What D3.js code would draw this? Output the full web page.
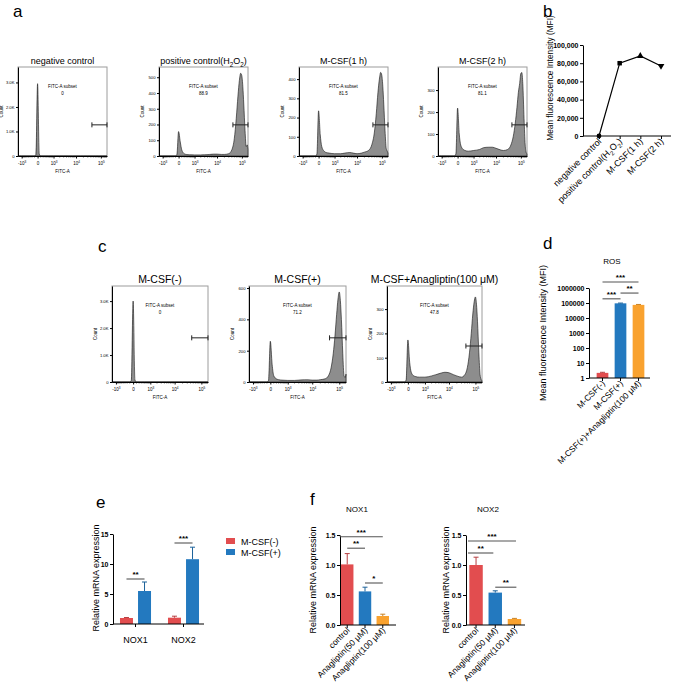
<!DOCTYPE html>
<html>
<head>
<meta charset="utf-8">
<script src="https://cdn.jsdelivr.net/npm/d3@7"></script>
<style>
  body { margin: 0; background: #fff; }
  svg { display: block; }
</style>
</head>
<body>
<div id="chart"></div>
<script>
// ---------- data ----------
// flow histograms: FITC-A bin positions shared by every sample, counts
const fitcBins = [-1500, -1000, -500, -200, -100, -50, 0, 50, 100, 200, 300, 500, 1000, 2000, 3000, 5000, 7000,
  10000, 15000, 20000, 30000, 40000, 50000, 60000, 70000, 80000, 90000, 100000, 110000, 120000, 135000, 150000, 165000, 177000];

const negCtrlCounts = [0,0,0,0,0,60,2950,80,0,0,0,0,0,0,0,0,0,0,0,0,0,0,0,0,0,0,0,0,0,0,0,0,0,0];
const posCtrlCounts = [0,0,0,0,0,10,155,90,40,15,10,8,7,7,8,10,12,12,10,10,15,40,110,240,380,480,525,510,440,330,160,60,70,40];
const mcsf1hCounts  = [0,0,0,0,0,10,235,110,50,25,18,15,12,12,15,18,15,12,15,20,30,60,120,220,330,400,435,420,360,270,130,40,25,15];
const mcsf2hCounts  = [0,0,0,0,0,10,218,100,50,30,25,22,25,30,38,40,40,35,28,25,30,50,90,150,220,290,330,375,380,330,170,50,15,10];
const mcsfNegCounts = [0,0,0,0,0,60,3000,80,0,0,0,0,0,0,0,0,0,0,0,0,0,0,0,0,0,0,0,0,0,0,0,0,0,0];
const mcsfPosCounts = [0,0,0,0,0,10,260,110,40,20,15,12,10,10,12,14,14,12,12,15,20,40,90,180,300,430,530,575,520,400,180,40,30,50];
const mcsfAnaCounts = [0,0,0,0,0,8,173,80,40,25,22,20,20,25,30,37,40,38,30,25,20,30,60,120,200,280,330,350,320,250,120,30,10,5];

const histTitles  = ['negative control', 'positive control(H_2O_2)', 'M-CSF(1 h)', 'M-CSF(2 h)', 'M-CSF(-)', 'M-CSF(+)', 'M-CSF+Anagliptin(100 μM)'];
const histSubset  = ['0', '88.9', '81.5', '81.1', '0', '71.2', '47.8'];
const histYMax    = [3630, 565, 463, 405, 3560, 613, 395];
const histYTicks  = [[0,1000,2000,3000], [0,100,200,300,400,500], [0,100,200,300,400], [0,100,200,300],
                     [0,1000,2000,3000], [0,200,400,600], [0,100,200,300]];
const gateFrom = 44000;
const fitcTickVals = [-1000, 0, 1000, 10000, 100000];
const fitcTickText = ['-10^3', '0', '10^3', '10^4', '10^5'];

// b: MFI line
const bCats = ['negative control', 'positive control(H_2O_2)', 'M-CSF(1 h)', 'M-CSF(2 h)'];
const bMFI = [0, 80000, 88000, 77000];
const bYTicks = [0, 20000, 40000, 60000, 80000, 100000];

// d: ROS MFI (log)
const dCats = ['M-CSF(-)', 'M-CSF(+)', 'M-CSF(+)+Anagliptin(100 μM)'];
const dMean = [2.2, 95000, 75000];
const dErr = [0.2, 4000, 5000];
const dYTicks = [1, 10, 100, 1000, 10000, 100000, 1000000];
// [from bar, to bar, height, label]
const dSig = [[0, 2, 2.5e6, '***'], [0, 1, 1.9e5, '***'], [1, 2, 4.6e5, '**']];

// e: NOX1/NOX2 mRNA
const eGenes = ['NOX1', 'NOX2'];
const eGroups = ['M-CSF(-)', 'M-CSF(+)'];
const eNegMean = [1.0, 1.05];
const eNegErr = [0.08, 0.25];
const ePosMean = [5.5, 10.8];
const ePosErr = [1.5, 2.0];
const eYTicks = [0, 5, 10, 15];
const eSig = [[0, 7.5, '**'], [1, 13.5, '***']];

// f: anagliptin dose
const fCats = ['control', 'Anagliptin(50 μM)', 'Anagliptin(100 μM)'];
const fNox1Mean = [1.01, 0.56, 0.15];
const fNox1Err = [0.18, 0.07, 0.03];
const fNox2Mean = [1.0, 0.54, 0.1];
const fNox2Err = [0.13, 0.03, 0.01];
const fYTicks = [0, 0.5, 1.0, 1.5];
const fNox1Sig = [[-0.42, 2, 1.47, '***'], [0, 1, 1.28, '**'], [1, 2, 0.70, '*']];
const fNox2Sig = [[-0.42, 2.08, 1.40, '***'], [-0.42, 0.9, 1.20, '**'], [1, 2.1, 0.63, '**']];

const RED = '#e24d4f', BLUE = '#2379bf', ORANGE = '#f9a22f';
const FONT = '"Liberation Sans", Arial, sans-serif';

// ---------- helpers ----------
const svg = d3.select('#chart').append('svg')
  .attr('width', 676).attr('height', 690)
  .attr('font-family', FONT);

// "_2" -> subscript, "^3" -> superscript
function rich(t, str) {
  const fs = +t.attr('font-size');
  let shift = 0;
  str.split(/([_^]\d)/).filter(p => p !== '').forEach(p => {
    let target = 0, s = p, small = false;
    if (p[0] === '_') { target = 0.3; s = p.slice(1); small = true; }
    else if (p[0] === '^') { target = -0.45; s = p.slice(1); small = true; }
    const ts = t.append('tspan').text(s);
    if (target !== shift) ts.attr('dy', ((target - shift) * fs).toFixed(2));
    if (small) ts.attr('font-size', fs * 0.7);
    shift = target;
  });
  return t;
}

function styleAxis(g, fs, bold) {
  g.attr('font-family', FONT).attr('font-size', fs);
  g.selectAll('path, line').attr('stroke', '#000').attr('stroke-width', 1);
  g.selectAll('text').attr('fill', '#000').attr('font-size', fs);
  if (bold) g.selectAll('text').attr('font-weight', 'bold');
}

function panelLabel(txt, x, y) {
  svg.append('text').attr('x', x).attr('y', y).attr('font-size', 17).text(txt);
}

function yLabel(txt, x, cy, fs) {
  svg.append('text').attr('transform', `translate(${x},${cy}) rotate(-90)`)
    .attr('text-anchor', 'middle').attr('font-size', fs).text(txt);
}

function rotLabels(cats, xpos, yTop, fs) {
  cats.forEach((c, i) => {
    const t = svg.append('text').attr('text-anchor', 'end').attr('font-size', fs)
      .attr('transform', `translate(${xpos(c, i) + 3},${yTop}) rotate(-45)`);
    rich(t, c);
  });
}

function sigBar(x1, x2, y, label) {
  svg.append('line').attr('x1', x1).attr('x2', x2).attr('y1', y).attr('y2', y)
    .attr('stroke', '#555').attr('stroke-width', 1.1);
  svg.append('text').attr('x', (x1 + x2) / 2).attr('y', y - 2).attr('text-anchor', 'middle')
    .attr('font-size', 8).attr('font-weight', 'bold').text(label);
}

function errBar(cx, yTop, yEnd, color) {
  const c = d3.color(color).darker(0.6);
  svg.append('line').attr('x1', cx).attr('x2', cx).attr('y1', yTop).attr('y2', yEnd).attr('stroke', c).attr('stroke-width', 1);
  svg.append('line').attr('x1', cx - 2.5).attr('x2', cx + 2.5).attr('y1', yEnd).attr('y2', yEnd).attr('stroke', c).attr('stroke-width', 1);
}

// ---------- flow histograms (a, c) ----------
const histBoxes = [
  { x: 18, y: 67, w: 89, h: 89, titleY: 64, titleFs: 9, gateY: 0.65 },
  { x: 159, y: 67, w: 89, h: 89, titleY: 64, titleFs: 9, gateY: 0.65 },
  { x: 299, y: 67, w: 89, h: 89, titleY: 64, titleFs: 9, gateY: 0.65 },
  { x: 438, y: 67, w: 89, h: 89, titleY: 64, titleFs: 9, gateY: 0.65 },
  { x: 112, y: 286, w: 96, h: 96, titleY: 283, titleFs: 10.5, gateY: 0.54 },
  { x: 249, y: 286, w: 97, h: 96, titleY: 283, titleFs: 10.5, gateY: 0.54 },
  { x: 387, y: 286, w: 95, h: 96, titleY: 283, titleFs: 10.5, gateY: 0.625 }
];
const histCounts = [negCtrlCounts, posCtrlCounts, mcsf1hCounts, mcsf2hCounts, mcsfNegCounts, mcsfPosCounts, mcsfAnaCounts];

const minorVals = [].concat(
  d3.range(-900, 0, 100), d3.range(100, 1000, 100),
  d3.range(2000, 10000, 1000), d3.range(20000, 100000, 10000), d3.range(110000, 180000, 10000)
);

histBoxes.forEach((b, k) => {
  const x = d3.scaleSymlog().constant(300).domain([-1515, 177000]).range([b.x, b.x + b.w]);
  const y = d3.scaleLinear().domain([0, histYMax[k]]).range([b.y + b.h, b.y]);
  const g = svg.append('g');

  g.append('rect').attr('x', b.x).attr('y', b.y).attr('width', b.w).attr('height', b.h)
    .attr('fill', 'none').attr('stroke', '#9c9c9c').attr('stroke-width', 1);

  const area = d3.area().x((d, i) => x(fitcBins[i])).y0(y(0)).y1(d => y(d)).curve(d3.curveMonotoneX);
  g.append('path').datum(histCounts[k]).attr('d', area)
    .attr('fill', '#8d8d8d').attr('stroke', '#111').attr('stroke-width', 0.6);

  const fmt = histYMax[k] > 1000 ? (d => d === 0 ? '0' : d3.format('.1f')(d / 1000) + 'K') : d3.format('d');
  const ya = g.append('g').attr('transform', `translate(${b.x},0)`)
    .call(d3.axisLeft(y).tickValues(histYTicks[k]).tickFormat(fmt).tickSize(2).tickPadding(1.5).tickSizeOuter(0));
  styleAxis(ya, 4.2, false);

  const xa = g.append('g').attr('transform', `translate(0,${b.y + b.h})`)
    .call(d3.axisBottom(x).tickValues(fitcTickVals).tickSize(2.5).tickPadding(3).tickSizeOuter(0));
  styleAxis(xa, 4.5, false);
  xa.selectAll('.tick text').each(function (d, i) {
    const t = d3.select(this).text('');
    rich(t, fitcTickText[i]);
  });
  xa.selectAll('.minor').data(minorVals).enter().append('line')
    .attr('x1', d => x(d)).attr('x2', d => x(d)).attr('y1', 0).attr('y2', 1.5)
    .attr('stroke', '#000').attr('stroke-width', 0.6);

  // gate
  const gy = b.y + b.h * b.gateY;
  const gx1 = x(gateFrom), gx2 = x(177000);
  g.append('line').attr('x1', gx1).attr('x2', gx2).attr('y1', gy).attr('y2', gy).attr('stroke', '#222').attr('stroke-width', 1);
  [gx1, gx2].forEach(gx => g.append('line').attr('x1', gx).attr('x2', gx).attr('y1', gy - 2.5).attr('y2', gy + 2.5)
    .attr('stroke', '#222').attr('stroke-width', 1));

  // texts
  const cx = b.x + b.w / 2;
  rich(g.append('text').attr('x', cx).attr('y', b.titleY).attr('text-anchor', 'middle').attr('font-size', b.titleFs), histTitles[k]);
  g.append('text').attr('x', cx).attr('y', b.y + 21).attr('text-anchor', 'middle').attr('font-size', 4.5).text('FITC-A subset');
  g.append('text').attr('x', cx).attr('y', b.y + 28).attr('text-anchor', 'middle').attr('font-size', 4.5).text(histSubset[k]);
  g.append('text').attr('x', cx).attr('y', b.y + b.h + 17).attr('text-anchor', 'middle').attr('font-size', 4.5).text('FITC-A');
  g.append('text').attr('transform', `translate(${b.x - 15},${b.y + b.h / 2}) rotate(-90)`)
    .attr('text-anchor', 'middle').attr('font-size', 4.5).text('Count');
});

panelLabel('a', 13, 17);
panelLabel('c', 98, 252);

// ---------- b: MFI line ----------
{
  const x = d3.scalePoint().domain(bCats).range([599, 661]);
  const y = d3.scaleLinear().domain([0, 100000]).range([136, 45]);
  const ya = svg.append('g').attr('transform', 'translate(583,0)')
    .call(d3.axisLeft(y).tickValues(bYTicks).tickSize(3).tickPadding(1.5).tickSizeOuter(0));
  styleAxis(ya, 7, true);
  const xa = svg.append('g').attr('transform', 'translate(0,136)')
    .call(d3.axisBottom(x).tickSize(3).tickFormat('').tickSizeOuter(0));
  styleAxis(xa, 7, false);
  xa.select('.domain').attr('d', 'M583,0H671');

  svg.append('path').datum(bMFI)
    .attr('d', d3.line().x((d, i) => x(bCats[i])).y(d => y(d)))
    .attr('fill', 'none').attr('stroke', '#000').attr('stroke-width', 1.2);
  const shapes = [d3.symbolCircle, d3.symbolSquare, d3.symbolTriangle, d3.symbolTriangle];
  bMFI.forEach((v, i) => {
    svg.append('path').attr('d', d3.symbol().type(shapes[i]).size(i === 0 ? 18 : 20)())
      .attr('transform', `translate(${x(bCats[i])},${y(v)})` + (i === 3 ? ' rotate(180)' : ''))
      .attr('fill', '#000');
  });
  rotLabels(bCats, c => x(c), 142, 9);
  yLabel('Mean fluorescence Intensity (MFI)', 553, 78, 8.3);
  panelLabel('b', 543, 17);
}

// ---------- d: ROS ----------
{
  const x = d3.scaleBand().domain(dCats).range([593.5, 647.5]).paddingInner(0.35).paddingOuter(0.175);
  const y = d3.scaleLog().domain([1, 1000000]).range([378, 288]);
  const colors = [RED, BLUE, ORANGE];
  dCats.forEach((c, i) => {
    svg.append('rect').attr('x', x(c)).attr('width', x.bandwidth())
      .attr('y', y(dMean[i])).attr('height', y(1) - y(dMean[i]))
      .attr('fill', colors[i]);
    errBar(x(c) + x.bandwidth() / 2, y(dMean[i]), y(dMean[i] + dErr[i]), colors[i]);
  });
  const ya = svg.append('g').attr('transform', 'translate(589,0)')
    .call(d3.axisLeft(y).tickValues(dYTicks).tickFormat(d3.format('d')).tickSize(3).tickPadding(1.5).tickSizeOuter(0));
  styleAxis(ya, 7, true);
  const xa = svg.append('g').attr('transform', 'translate(0,378)')
    .call(d3.axisBottom(x).tickSize(3).tickFormat('').tickSizeOuter(0));
  styleAxis(xa, 7, false);
  xa.select('.domain').attr('d', 'M589,0H650');
  const cx = i => x(dCats[0]) + x.bandwidth() / 2 + i * x.step();
  dSig.forEach(s => sigBar(cx(s[0]), cx(s[1]), y(s[2]), s[3]));
  rotLabels(dCats, c => x(c) + x.bandwidth() / 2, 384, 8.5);
  svg.append('text').attr('x', 612).attr('y', 264).attr('text-anchor', 'middle').attr('font-size', 8).text('ROS');
  yLabel('Mean fluorescence Intensity (MFI)', 546, 333, 9);
  panelLabel('d', 543, 249);
}

// ---------- e: M-CSF NOX1/NOX2 ----------
{
  const x0 = d3.scaleBand().domain(eGenes).range([111.5, 207.5]);
  const x1 = d3.scaleBand().domain(eGroups).range([0, x0.bandwidth()]).paddingInner(0.28).paddingOuter(0.47);
  const y = d3.scaleLinear().domain([0, 15]).range([624, 534]);
  const series = [[eNegMean, eNegErr, RED], [ePosMean, ePosErr, BLUE]];
  eGenes.forEach((gname, gi) => {
    series.forEach((s, si) => {
      const bx = x0(gname) + x1(eGroups[si]);
      svg.append('rect').attr('x', bx).attr('width', x1.bandwidth())
        .attr('y', y(s[0][gi])).attr('height', y(0) - y(s[0][gi])).attr('fill', s[2]);
      errBar(bx + x1.bandwidth() / 2, y(s[0][gi]), y(s[0][gi] + s[1][gi]), s[2]);
    });
  });
  const ya = svg.append('g').attr('transform', 'translate(113,0)')
    .call(d3.axisLeft(y).tickValues(eYTicks).tickSize(3).tickPadding(1.5).tickSizeOuter(0));
  styleAxis(ya, 7, true);
  const xa = svg.append('g').attr('transform', 'translate(0,624)')
    .call(d3.axisBottom(x0).tickSize(3).tickPadding(10).tickSizeOuter(0));
  styleAxis(xa, 9, false);
  xa.select('.domain').attr('d', 'M113,0H204');
  eSig.forEach(s => {
    const g = eGenes[s[0]];
    sigBar(x0(g) + x1(eGroups[0]) + x1.bandwidth() / 2, x0(g) + x1(eGroups[1]) + x1.bandwidth() / 2, y(s[1]), s[2]);
  });
  // legend
  eGroups.forEach((lab, i) => {
    svg.append('rect').attr('x', 226).attr('y', 538 + i * 11).attr('width', 9).attr('height', 6)
      .attr('fill', i === 0 ? RED : BLUE);
    svg.append('text').attr('x', 241).attr('y', 544.5 + i * 11).attr('font-size', 9).text(lab);
  });
  yLabel('Relative mRNA expression', 99, 578, 9);
  panelLabel('e', 96, 508);
}

// ---------- f: anagliptin NOX1 / NOX2 ----------
function fPanel(mean, err, sig, axisX, axisEnd, range, title, titleX, labX) {
  const x = d3.scaleBand().domain(fCats).range(range).paddingInner(0.3).paddingOuter(0.225);
  const y = d3.scaleLinear().domain([0, 1.5]).range([625, 535]);
  const colors = [RED, BLUE, ORANGE];
  fCats.forEach((c, i) => {
    svg.append('rect').attr('x', x(c)).attr('width', x.bandwidth())
      .attr('y', y(mean[i])).attr('height', y(0) - y(mean[i])).attr('fill', colors[i]);
    errBar(x(c) + x.bandwidth() / 2, y(mean[i]), y(mean[i] + err[i]), colors[i]);
  });
  const ya = svg.append('g').attr('transform', `translate(${axisX},0)`)
    .call(d3.axisLeft(y).tickValues(fYTicks).tickFormat(d3.format('.1f')).tickSize(3).tickPadding(1.5).tickSizeOuter(0));
  styleAxis(ya, 7, true);
  const xa = svg.append('g').attr('transform', 'translate(0,625)')
    .call(d3.axisBottom(x).tickSize(3).tickFormat('').tickSizeOuter(0));
  styleAxis(xa, 7, false);
  xa.select('.domain').attr('d', `M${axisX},0H${axisEnd}`);
  const cx = i => x(fCats[0]) + x.bandwidth() / 2 + i * x.step();
  sig.forEach(s => sigBar(cx(s[0]), cx(s[1]), y(s[2]), s[3]));
  rotLabels(fCats, c => x(c) + x.bandwidth() / 2, 631, 8.5);
  svg.append('text').attr('x', titleX).attr('y', 512).attr('text-anchor', 'middle').attr('font-size', 8).text(title);
  yLabel('Relative mRNA expression', labX, 580, 9);
}
fPanel(fNox1Mean, fNox1Err, fNox1Sig, 340, 396, [337, 393], 'NOX1', 357, 316);
fPanel(fNox2Mean, fNox2Err, fNox2Sig, 466, 525, [465, 525.5], 'NOX2', 488, 449);
panelLabel('f', 310, 505);
</script>
</body>
</html>
